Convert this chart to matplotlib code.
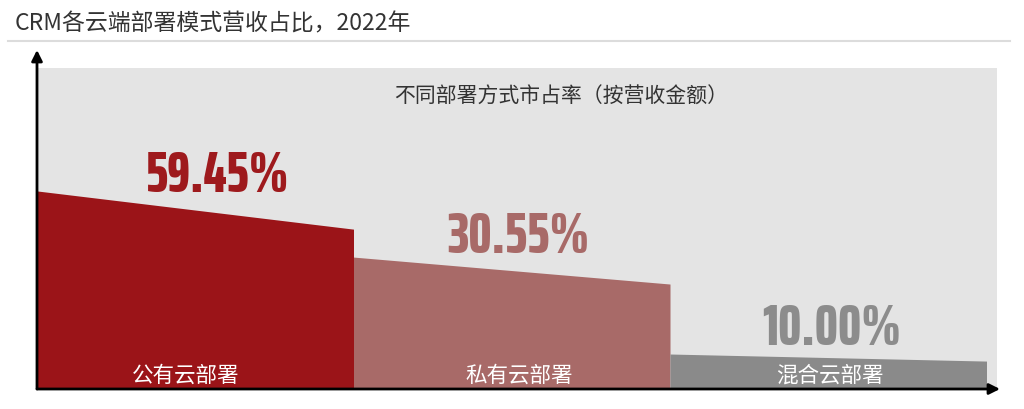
import matplotlib
matplotlib.use("Agg")
import matplotlib.pyplot as plt
from matplotlib import font_manager
from matplotlib.lines import Line2D

# ---- data ----
categories = ["公有云部署", "私有云部署", "混合云部署"]
shares = [59.45, 30.55, 10.00]
share_labels = ["59.45%", "30.55%", "10.00%"]
top_left = [61.7, 41.1, 10.9]    # height of the slanted top at left edge (0-100 scale)
top_right = [49.8, 32.7, 8.7]    # height at right edge
title = "CRM各云端部署模式营收占比，2022年"
subtitle = "不同部署方式市占率（按营收金额）"

fill_colors = ["#9b1418", "#a86a68", "#8a8a8a"]
label_colors = ["#9e1a1d", "#a86a68", "#8c8c8c"]

CJK = ["Noto Sans CJK SC", "DejaVu Sans"]
avail = {f.name for f in font_manager.fontManager.ttflist}
num_font = "DejaVu Sans"
for cand in ["Saira ExtraCondensed", "Oswald", "Anton", "Roboto Condensed"]:
    if cand in avail:
        num_font = cand
        break

W, H = 1024, 409
fig = plt.figure(figsize=(W / 100, H / 100), dpi=100)
fig.patch.set_facecolor("white")

# axes region: x 37..997 px, y baseline 389 .. top 68 px
ax = fig.add_axes([37 / W, (H - 389) / H, 960 / W, 321 / H])
unit = 316.5
ax.set_xlim(0, 960 / unit)
ax.set_ylim(0, 100)
ax.set_facecolor("#e4e4e4")
for s in ax.spines.values():
    s.set_visible(False)
ax.set_xticks([])
ax.set_yticks([])

for i, (cat, l, r) in enumerate(zip(categories, top_left, top_right)):
    ax.fill_between([i, i + 1], [l, r], 0, color=fill_colors[i], linewidth=0, zorder=2)

label_x = [0.57, 1.52, 2.51]
label_y = [61.3, 42.3, 13.6]
for i, lab in enumerate(share_labels):
    ax.text(label_x[i], label_y[i], lab, ha="center", va="baseline",
            fontsize=42, fontweight=800, family=num_font,
            color=label_colors[i], zorder=3)

cat_x = [0.47, 1.523, 2.505]
for i, cat in enumerate(categories):
    ax.text(cat_x[i], 0.6, cat, ha="center", va="bottom", fontsize=15.5,
            color="white", family=CJK, zorder=3)

# axis arrows
ax.annotate("", xy=(0, 1 + 18 / 321), xytext=(0, 0), xycoords="axes fraction",
            arrowprops=dict(arrowstyle="-|>", lw=2, color="black", mutation_scale=16,
                            shrinkA=0, shrinkB=0),
            annotation_clip=False, zorder=5)
ax.annotate("", xy=(1 + 3 / 960, 0), xytext=(0, 0), xycoords="axes fraction",
            arrowprops=dict(arrowstyle="-|>", lw=2, color="black", mutation_scale=16,
                            shrinkA=0, shrinkB=0),
            annotation_clip=False, zorder=5)

# title + separator
fig.text(15 / W, 1 - 30 / H, title, ha="left", va="baseline", fontsize=16.5,
         fontweight="medium", color="#333333", family=CJK)
fig.add_artist(Line2D([8 / W, 1010 / W], [1 - 41 / H] * 2, color="#dcdcdc", lw=1.5))

fig.text(561 / W, 1 - 103 / H, subtitle, ha="center", va="baseline", fontsize=15,
         color="#333333", family=CJK)

fig.savefig("out.png", dpi=100)
